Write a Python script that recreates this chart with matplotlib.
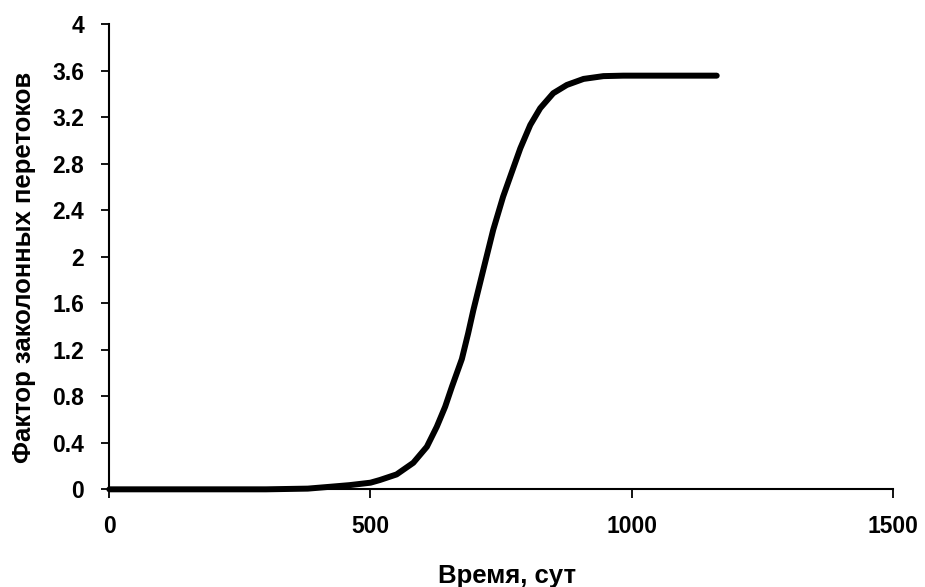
import matplotlib
matplotlib.use("Agg")
import matplotlib.pyplot as plt

# ── data ─────────────────────────────────────────────────────────────────────

time_days = [0, 100, 200, 300, 380, 423, 460, 500, 518, 550, 582, 608, 627,
             643, 656, 675, 687, 697, 716, 735, 754, 771, 787, 806, 825, 850,
             876, 908, 946, 984, 1050, 1100, 1163]
factor = [0.0, 0.0, 0.0, 0.0, 0.006, 0.022, 0.036, 0.057, 0.08, 0.128,
          0.228, 0.366, 0.538, 0.71, 0.882, 1.12, 1.34, 1.54, 1.886, 2.23,
          2.516, 2.731, 2.932, 3.132, 3.276, 3.405, 3.476, 3.528, 3.552,
          3.556, 3.556, 3.556, 3.556]

x_ticks = [0, 500, 1000, 1500]
y_ticks = [0, 0.4, 0.8, 1.2, 1.6, 2, 2.4, 2.8, 3.2, 3.6, 4]
y_tick_labels = ["0", "0.4", "0.8", "1.2", "1.6", "2", "2.4", "2.8", "3.2", "3.6", "4"]

plt.rcParams["font.family"] = ["Liberation Sans", "DejaVu Sans"]
plt.rcParams["font.weight"] = "bold"

fig = plt.figure(figsize=(9.25, 5.87), dpi=100)
ax = fig.add_axes([0.1182, 0.1664, 0.9651 - 0.1182, 0.9591 - 0.1664])

ax.plot(time_days, factor, color="black", lw=4.3, solid_capstyle="round",
        solid_joinstyle="round", clip_on=False, zorder=3)

ax.set_xlim(0, 1500)
ax.set_ylim(0, 4)
ax.set_xticks(x_ticks)
ax.set_yticks(y_ticks)
ax.set_yticklabels(y_tick_labels)

for side in ("top", "right"):
    ax.spines[side].set_visible(False)
for side in ("left", "bottom"):
    ax.spines[side].set_linewidth(1.5)
    ax.spines[side].set_color("black")

ax.tick_params(axis="both", direction="out", width=1.3,
               labelsize=16.5, colors="black")
ax.tick_params(axis="x", length=6.5, pad=12)
ax.tick_params(axis="y", length=6, pad=12)
for lbl in ax.get_xticklabels() + ax.get_yticklabels():
    lbl.set_fontweight("bold")

ax.set_xlabel("Время, сут", fontsize=18.5, fontweight="bold")
ax.set_ylabel("Фактор заколонных перетоков", fontsize=18.5, fontweight="bold")
ax.xaxis.set_label_coords(0.508, -0.1605)
ax.yaxis.set_label_coords(-0.093, 0.476)

fig.savefig("out.png", dpi=100, facecolor="white")
